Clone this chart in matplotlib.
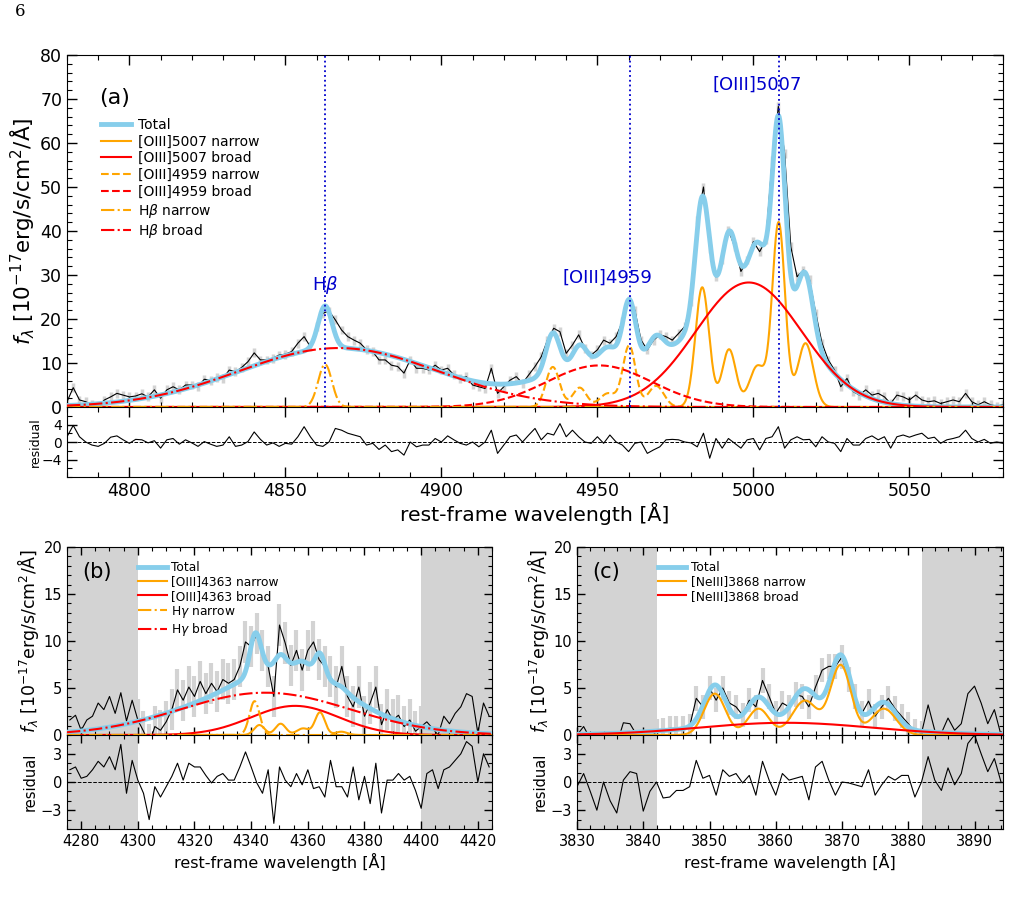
import numpy as np
import matplotlib
matplotlib.use("Agg")
import matplotlib.pyplot as plt
from matplotlib.ticker import MultipleLocator, FixedLocator

# ---------------- panel (a): Hbeta + [OIII]4959,5007 ----------------
wave_a = np.arange(4780, 5081, 2)
flux_a = [1.2, 4.4, 1.6, 1.2, 0.5, 0.2, 1.6, 2.3, 3.1, 2.7,
          2.3, 2.5, 3.0, 2.3, 3.9, 2.0, 3.9, 4.6, 3.9, 5.0,
          5.0, 4.6, 6.3, 6.1, 6.7, 6.5, 8.4, 8.0, 9.0, 10.3,
          12.3, 10.7, 10.7, 11.1, 11.8, 12.0, 12.6, 14.5, 16.0, 13.7,
          18.3, 21.3, 21.8, 19.8, 17.5, 16.0, 15.2, 14.5, 13.0, 12.6,
          10.7, 10.7, 9.5, 9.2, 7.7, 10.7, 8.8, 8.8, 8.4, 9.5,
          8.4, 8.8, 7.3, 6.5, 6.9, 5.0, 4.6, 4.2, 8.8, 3.1,
          4.6, 6.1, 6.9, 5.4, 7.3, 9.2, 11.4, 15.2, 17.9, 17.1,
          12.2, 14.1, 16.4, 13.3, 11.8, 13.0, 15.2, 14.5, 16.0, 19.4,
          24.3, 22.0, 15.2, 13.0, 15.2, 16.4, 16.0, 15.2, 16.7, 18.3,
          24.0, 42.5, 50.0, 36.0, 29.6, 33.4, 40.2, 36.4, 30.8, 33.4,
          37.6, 35.3, 38.0, 56.0, 68.3, 57.7, 36.4, 29.6, 31.1, 28.9,
          21.3, 14.5, 10.7, 8.4, 4.6, 6.5, 3.5, 2.7, 3.9, 2.7,
          3.1, 2.3, 0.8, 2.7, 2.3, 1.6, 2.7, 1.6, 1.2, 1.4,
          0.8, 1.2, 1.6, 1.2, 3.1, 1.2, 0.5, 1.2, 0.5, 0.2,
          0.5]
resid_a = [1.2, 3.8, 1.2, 0.0, -0.7, -1.0, -0.3, 1.1, 1.4, 0.5,
           -0.3, 0.6, 0.5, -0.2, 0.3, -1.4, 0.5, 0.8, -0.5, 0.5,
           -0.2, -1.0, 0.1, -0.5, -1.0, -0.7, 1.2, -1.0, -0.7, 0.1,
           2.3, 0.6, -0.7, -0.2, -1.0, -0.3, -0.5, 1.2, 3.5, 1.2,
           -0.7, -1.0, 0.0, 3.1, 2.7, 2.0, 1.6, 1.2, -0.7, -0.3,
           -1.7, -0.7, -2.2, -1.8, -3.0, 0.0, -1.1, -0.7, -0.7, 0.8,
           0.0, 1.4, 0.5, -0.3, -0.7, 0.0, -1.1, 0.0, 2.7, -2.6,
           -0.7, 1.2, 1.6, 0.0, 1.6, 3.1, 0.5, 2.0, 1.6, 4.2,
           1.2, 2.7, 1.2, 0.0, -0.3, 1.2, -0.3, 1.6, 0.0, -0.7,
           -2.2, -0.3, 0.0, -2.6, -1.8, -1.1, 0.5, 0.6, 0.5, 0.0,
           -0.2, -1.1, 2.0, -3.7, 0.8, -1.4, 0.8, -0.3, -1.4, 0.5,
           0.8, -1.8, 0.8, 1.2, 3.5, -1.4, 0.5, 1.2, 0.5, 0.6,
           -1.1, 1.2, 0.0, -0.3, -2.2, 0.8, -0.7, -0.7, 0.8, 1.4,
           0.5, 1.2, -1.4, 1.2, 1.6, 1.1, 1.6, 2.0, 0.8, 1.1,
           -0.3, 0.5, 0.8, 1.2, 2.7, 0.8, 0.0, 0.6, -0.3, 0.0,
           -0.3]
err_a = 1.0

# gaussian components: centre, amplitude, sigma
o3_5007_n_mu = [4983.6, 4992.2, 5001.3, 5008.1, 5016.7]
o3_5007_n_amp = [27.2, 13.1, 9.3, 41.7, 14.5]
o3_5007_n_sig = [2.2, 2.2, 2.6, 2.05, 2.5]
o3_5007_b = (4998.5, 28.3, 17.0)
o3_4959_n_mu = [4935.7, 4944.3, 4953.4, 4960.2, 4968.8]
o3_4959_n_amp = [9.1, 4.4, 3.1, 13.9, 4.8]
o3_4959_n_sig = [2.2, 2.2, 2.6, 2.05, 2.5]
o3_4959_b = (4950.6, 9.45, 16.8)
hb_n = (4862.7, 9.7, 2.2)
hb_b = (4867.0, 13.4, 32.0)
lines_a = {r'H$\beta$': (4862.7, 4862.7, 27.8),
           '[OIII]4959': (4960.3, 4953.1, 29.3),
           '[OIII]5007': (5008.2, 5001.2, 73.2)}

# ---------------- panel (b): Hgamma + [OIII]4363 ----------------
wave_b = np.arange(4276, 4425, 2)
flux_b = [1.6, 2.1, 0.5, 1.6, 2.0, 3.4, 2.7, 4.1, 2.3, 4.5,
          1.5, 3.7, 1.6, 0.4, -1.0, 0.9, 0.5, 1.4, 2.7, 4.8,
          3.7, 5.1, 4.1, 5.7, 4.4, 5.5, 4.6, 5.9, 5.5, 5.9,
          7.3, 9.9, 9.4, 10.8, 9.0, 7.3, 4.1, 11.7, 9.8, 7.4,
          9.0, 6.9, 9.0, 9.9, 8.0, 7.3, 6.2, 5.1, 7.3, 4.1,
          3.0, 5.1, 2.0, 3.4, 5.1, 1.1, 2.7, 1.6, 2.1, 0.9,
          1.6, 0.4, 0.9, 1.4, 0.7, 0.0, 2.0, 1.2, 2.3, 3.0,
          4.4, 4.1, 0.2, 3.4, 2.0]
resid_b = [1.3, 1.6, 0.4, 0.6, 1.3, 2.2, 1.6, 2.7, 1.3, 4.0,
           -1.2, 2.3, 0.2, -1.2, -4.0, -0.5, -1.6, -0.5, 0.6, 2.0,
           0.2, 2.0, 1.6, 1.6, 0.7, -0.1, 0.6, 0.9, 0.2, 0.2,
           1.6, 3.2, 1.6, -0.1, -1.2, 1.3, -4.4, 1.6, 0.2, -0.5,
           0.9, -0.3, 1.3, -0.7, -0.5, -1.6, 2.3, -0.5, -0.5, -1.6,
           1.6, -1.9, 0.6, -2.3, 2.0, -3.3, 0.2, 0.2, 0.9, 0.2,
           0.6, -0.9, -2.8, 0.9, 1.3, -0.7, 1.3, 1.6, 2.3, 3.0,
           4.3, 3.8, 0.0, 3.0, 1.6]
err_b = 2.2
fit_b = (4300, 4400)

o3_4363_n_mu = [4342.9, 4350.4, 4358.3, 4364.3, 4371.8]
o3_4363_n_amp = [1.06, 1.2, 0.7, 2.4, 0.35]
o3_4363_n_sig = [1.85, 1.85, 2.2, 1.75, 2.1]
o3_4363_b = (4355.5, 3.1, 15.5)
hg_n = (4341.2, 3.6, 1.8)
hg_b = (4345.0, 4.5, 30.0)

# ---------------- panel (c): [NeIII]3868 ----------------
wave_c = np.arange(3830, 3895, 1)
flux_c = [0.0, 0.9, -0.4, -1.0, 0.1, -0.6, -1.0, 1.3, 1.2, 0.0,
          -1.0, -0.3, 0.35, 0.5, 0.7, 0.7, 0.7, 0.9, 3.9, 3.0,
          5.0, 3.7, 5.0, 3.4, 3.0, 2.1, 3.7, 3.0, 5.8, 4.1,
          2.3, 3.4, 3.0, 4.3, 4.1, 3.0, 5.1, 6.9, 7.3, 7.3,
          8.3, 5.9, 4.1, 2.3, 3.6, 2.0, 3.0, 3.9, 2.8, 2.0,
          1.2, 0.35, 0.2, 3.2, 0.5, 0.2, 1.8, 0.5, 1.2, 4.4,
          5.2, 3.4, 1.2, 2.7, 0.0]
resid_c = [-0.5, 0.9, -1.0, -3.0, 0.0, -2.0, -3.3, 0.2, 1.1, 0.9,
           -3.1, -1.0, 0.0, -1.7, -1.6, -0.9, -0.9, -0.5, 2.3, 0.4,
           0.7, -1.4, 1.3, 0.6, 0.9, -0.1, 0.7, -1.4, 2.2, 0.2,
           -1.4, 0.9, 0.2, 0.4, 0.6, -1.9, 1.6, 2.2, 0.2, -1.4,
           0.0, -0.1, -0.3, -0.5, 1.3, -1.4, -0.3, 0.6, 0.2, 0.7,
           0.7, -1.6, 0.0, 2.7, 0.2, -0.9, 1.5, -0.3, 0.9, 4.1,
           5.0, 3.0, 1.1, 2.5, 0.0]
err_c = 1.3
fit_c = (3842, 3882)

ne3_n_mu = [3850.8, 3857.4, 3864.4, 3869.8, 3876.3]
ne3_n_amp = [4.4, 2.8, 3.65, 7.4, 2.8]
ne3_n_sig = [1.6, 1.6, 1.9, 1.55, 1.85]
ne3_b = (3861.5, 1.3, 13.0)


def gauss(x, mu, amp, sig):
    return amp * np.exp(-0.5 * ((x - mu) / sig) ** 2)


def multi(x, mus, amps, sigs):
    return sum(gauss(x, m, a, s) for m, a, s in zip(mus, amps, sigs))


def style(ax, xmaj, xmin, ymaj, ymin, size, lmaj=7, lmin=3.5):
    ax.xaxis.set_major_locator(MultipleLocator(xmaj))
    ax.xaxis.set_minor_locator(MultipleLocator(xmin))
    ax.yaxis.set_major_locator(MultipleLocator(ymaj))
    ax.yaxis.set_minor_locator(MultipleLocator(ymin))
    ax.tick_params(which='both', direction='in', top=True, right=True,
                   labelsize=size)
    ax.tick_params(which='major', length=lmaj, width=1.0)
    ax.tick_params(which='minor', length=lmin, width=0.8)


def draw_data(ax, wave, flux, err, window=None, elw=2.5):
    wave = np.asarray(wave)
    flux = np.asarray(flux)
    sel = np.ones(len(wave), bool) if window is None else \
        (wave >= window[0]) & (wave <= window[1])
    ax.errorbar(wave[sel], flux[sel], yerr=err, fmt='none',
                ecolor='lightgray', elinewidth=elw, zorder=1)
    ax.plot(wave, flux, color='k', lw=0.8, zorder=2)


def draw_resid(ax, wave, resid):
    ax.plot(wave, resid, color='k', lw=0.8, zorder=2)
    ax.axhline(0, color='k', ls='--', lw=0.7, zorder=2)


W, H = 1030, 898
fig = plt.figure(figsize=(W / 100, H / 100), dpi=100)


def box(l, t, r, b):
    return [l / W, 1 - b / H, (r - l) / W, (b - t) / H]


ylab = r'$f_\lambda$ [10$^{-17}$erg/s/cm$^2$/Å]'

# ---------------- (a) ----------------
ax_a = fig.add_axes(box(67, 55, 1003, 407))
ra = fig.add_axes(box(67, 407, 1003, 477), sharex=ax_a)
xf = np.linspace(4780, 5080, 3000)
c_o3n = multi(xf, o3_5007_n_mu, o3_5007_n_amp, o3_5007_n_sig)
c_o3b = gauss(xf, *o3_5007_b)
c_o4n = multi(xf, o3_4959_n_mu, o3_4959_n_amp, o3_4959_n_sig)
c_o4b = gauss(xf, *o3_4959_b)
c_hbn = gauss(xf, *hb_n)
c_hbb = gauss(xf, *hb_b)
total = c_o3n + c_o3b + c_o4n + c_o4b + c_hbn + c_hbb

draw_data(ax_a, wave_a, flux_a, err_a)
ax_a.plot(xf, total, color='skyblue', lw=3.5, zorder=3, label='Total')
ax_a.plot(xf, c_o3n, color='orange', lw=1.5, zorder=4, label='[OIII]5007 narrow')
ax_a.plot(xf, c_o3b, color='red', lw=1.5, zorder=4, label='[OIII]5007 broad')
ax_a.plot(xf, c_o4n, color='orange', lw=1.5, ls='--', zorder=4, label='[OIII]4959 narrow')
ax_a.plot(xf, c_o4b, color='red', lw=1.5, ls='--', zorder=4, label='[OIII]4959 broad')
ax_a.plot(xf, c_hbn, color='orange', lw=1.5, ls='-.', zorder=4, label=r'H$\beta$ narrow')
ax_a.plot(xf, c_hbb, color='red', lw=1.5, ls='-.', zorder=4, label=r'H$\beta$ broad')
for name, (lam, xt, yt) in lines_a.items():
    ax_a.axvline(lam, color='mediumblue', ls=':', lw=1.3, zorder=5)
    ax_a.text(xt, yt, name, color='mediumblue', fontsize=13,
              ha='center', va='center', zorder=6)
ax_a.set_xlim(4780, 5080)
ax_a.set_ylim(0, 80)
style(ax_a, 50, 10, 10, 2, 12.5)
ax_a.tick_params(labelbottom=False)
ax_a.set_ylabel(ylab, fontsize=15.5, labelpad=2)
ax_a.text(0.034, 0.878, '(a)', transform=ax_a.transAxes, fontsize=16,
          ha='left', va='center')
ax_a.legend(loc='upper left', bbox_to_anchor=(0.036, 0.822), frameon=False,
            fontsize=10, handlelength=2.2, handletextpad=0.45,
            labelspacing=0.2, borderpad=0, borderaxespad=0)

draw_resid(ra, wave_a, resid_a)
ra.set_ylim(-8, 8)
style(ra, 50, 10, 4, 2, 10)
ra.yaxis.set_major_locator(FixedLocator([-4, 0, 4]))
ra.tick_params(labelsize=12.5, axis='x')
ra.set_ylabel('residual', fontsize=9, labelpad=0)
ra.set_xlabel('rest-frame wavelength [Å]', fontsize=14.7, labelpad=2)


# ---------------- (b) & (c) ----------------
def small_panel(l, r, wave, flux, resid, err, window, xlim, comps, tag,
                xmaj, xmin):
    ax = fig.add_axes(box(l, 547, r, 735))
    rx = fig.add_axes(box(l, 735, r, 829), sharex=ax)
    xs = np.linspace(xlim[0], xlim[1], 2000)
    for a in (ax, rx):
        a.axvspan(xlim[0], window[0], color='lightgray', lw=0, zorder=0)
        a.axvspan(window[1], xlim[1], color='lightgray', lw=0, zorder=0)
    draw_data(ax, wave, flux, err, window, elw=3)
    curves = [fn(xs) for fn, _, _, _ in comps]
    ax.plot(xs, sum(curves), color='skyblue', lw=3.5, zorder=3, label='Total')
    for cv, (_, col, ls, lab) in zip(curves, comps):
        ax.plot(xs, cv, color=col, ls=ls, lw=1.5, zorder=4, label=lab)
    ax.set_xlim(*xlim)
    ax.set_ylim(0, 20)
    style(ax, xmaj, xmin, 5, 1, 10.5, 6, 3)
    ax.tick_params(labelbottom=False)
    ax.set_ylabel(ylab, fontsize=12.5, labelpad=1.5)
    ax.text(0.035, 0.867, tag, transform=ax.transAxes, fontsize=15,
            ha='left', va='center')
    draw_resid(rx, wave, resid)
    rx.set_ylim(-5, 5)
    style(rx, xmaj, xmin, 3, 1, 10.5, 6, 3)
    rx.set_ylabel('residual', fontsize=10.5, labelpad=2)
    rx.set_xlabel('rest-frame wavelength [Å]', fontsize=11.5, labelpad=3)
    return ax


comps_b = [
    (lambda x: multi(x, o3_4363_n_mu, o3_4363_n_amp, o3_4363_n_sig), 'orange', '-', '[OIII]4363 narrow'),
    (lambda x: gauss(x, *o3_4363_b), 'red', '-', '[OIII]4363 broad'),
    (lambda x: gauss(x, *hg_n), 'orange', '-.', r'H$\gamma$ narrow'),
    (lambda x: gauss(x, *hg_b), 'red', '-.', r'H$\gamma$ broad'),
]
ax_b = small_panel(67, 492, wave_b, flux_b, resid_b, err_b, fit_b,
                   (4275, 4425), comps_b, '(b)', 20, 5)
ax_b.legend(loc='upper left', bbox_to_anchor=(0.168, 0.925), frameon=False,
            fontsize=8.8, handlelength=2.3, handletextpad=0.4,
            labelspacing=0.1, borderpad=0, borderaxespad=0)

comps_c = [
    (lambda x: multi(x, ne3_n_mu, ne3_n_amp, ne3_n_sig), 'orange', '-', '[NeIII]3868 narrow'),
    (lambda x: gauss(x, *ne3_b), 'red', '-', '[NeIII]3868 broad'),
]
ax_c = small_panel(577, 1003, wave_c, flux_c, resid_c, err_c, fit_c,
                   (3830, 3894.3), comps_c, '(c)', 10, 2)
ax_c.legend(loc='upper left', bbox_to_anchor=(0.19, 0.925), frameon=False,
            fontsize=8.8, handlelength=2.3, handletextpad=0.4,
            labelspacing=0.1, borderpad=0, borderaxespad=0)

fig.text(15 / W, 1 - 12 / H, '6', family='DejaVu Serif', fontsize=12,
         ha='left', va='center')

fig.savefig('out.png', dpi=100)
